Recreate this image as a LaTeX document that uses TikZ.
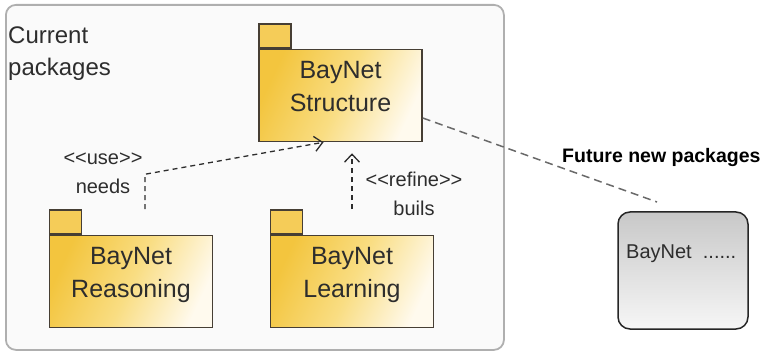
\documentclass[tikz,border=0pt]{standalone}
\usepackage{fontspec}
\setmainfont{Liberation Sans}[Ligatures=TeXOff]
\usetikzlibrary{arrows.meta, positioning}
\definecolor{pkggold}{RGB}{243,197,62}
\definecolor{pkgmid}{RGB}{249,221,130}
\definecolor{pkglight}{RGB}{255,250,238}
\definecolor{pkgtabfill}{RGB}{245,204,88}
\definecolor{pkgline}{RGB}{70,62,52}
\definecolor{framegray}{RGB}{175,175,175}
\definecolor{framefill}{RGB}{250,250,250}
\definecolor{futtop}{RGB}{200,200,200}
\definecolor{futbottom}{RGB}{246,246,246}
\definecolor{linkgray}{RGB}{105,105,105}
\definecolor{txt}{RGB}{45,45,45}
\tikzset{
    package/.style={
        rectangle,
        draw=pkgline,
        line width=1.5pt,
        minimum width=163pt,
        minimum height=92pt,
        bottom color=pkggold,
        top color=pkglight,
        middle color=pkgmid,
        shading angle=-115
    },
    pkgtab/.style={
        rectangle,
        draw=pkgline,
        line width=1.5pt,
        fill=pkgtabfill,
        minimum width=32pt,
        minimum height=24pt,
        inner sep=0pt
    },
    pkgname/.style={
        align=center,
        inner sep=0pt,
        text=txt,
        font=\fontsize{25}{33}\selectfont
    },
    tag/.style={
        align=center,
        inner sep=0pt,
        text=txt,
        font=\fontsize{20}{29}\selectfont
    },
    depend/.style={
        draw=txt,
        line width=1.3pt,
        dash pattern=on 5pt off 4pt,
        -{Straight Barb[length=8pt,width=15pt]}
    },
    link/.style={
        draw=linkgray,
        line width=1.5pt,
        dash pattern=on 8pt off 5pt
    },
    future/.style={
        rectangle,
        draw=black!85,
        line width=1.5pt,
        rounded corners=12pt,
        minimum width=130pt,
        minimum height=117pt,
        top color=futtop,
        bottom color=futbottom
    },
    frame/.style={
        rectangle,
        draw=framegray,
        line width=1.8pt,
        rounded corners=10pt,
        fill=framefill
    }
}
\begin{document}
\begin{tikzpicture}[x=1pt, y=-1pt]
\useasboundingbox (0,0) rectangle (762,352);

% Frame of the current packages
\node[frame, minimum width=498pt, minimum height=345pt, anchor=north west] (current) at (5,4) {};
\node[tag, align=left, anchor=north west, font=\fontsize{24}{32}\selectfont] (currentname) at (8,27) {Current\\packages};

% Packages
\node[package] (structure) at (340.5,95.5) {};
\node[pkgtab, anchor=south west] (structtab) at (structure.north west) {};
\node[pkgname, below=12pt of structure.north] (structname) {BayNet\\Structure};

\node[package] (reasoning) at (131,281.5) {};
\node[pkgtab, anchor=south west] (reasontab) at (reasoning.north west) {};
\node[pkgname, below=12pt of reasoning.north] (reasonname) {BayNet\\Reasoning};

\node[package] (learning) at (352,281.5) {};
\node[pkgtab, anchor=south west] (learntab) at (learning.north west) {};
\node[pkgname, below=12pt of learning.north] (learnname) {BayNet\\Learning};

% Dependencies
\draw[depend] ([xshift=14pt]reasoning.north |- reasontab.north) -- ++(0,-35) -- ([xshift=-17pt]structure.south);
\draw[depend, shorten >=11pt] (learning.north |- learntab.north) -- (structure.south -| learning.north);
\node[tag, anchor=south] (usetag) at (103,194) {<<use>>\\needs};
\node[tag, anchor=south] (refinetag) at (414,216) {<<refine>>\\buils};

% Future packages
\node[future] (futbox) at (683,270.5) {};
\node[anchor=base west, inner sep=0pt, text=txt, font=\fontsize{20}{24}\selectfont] (futname) at (626,259) {BayNet \ ......};
\node[anchor=base west, inner sep=0pt, text=black, font=\bfseries\fontsize{19.5}{24}\selectfont] (futtitle) at (562,163) {Future new packages};
\coordinate (linkend) at (657,202);
\draw[link] ([yshift=-22.5pt]structure.east) -- (linkend);

\end{tikzpicture}
\end{document}
